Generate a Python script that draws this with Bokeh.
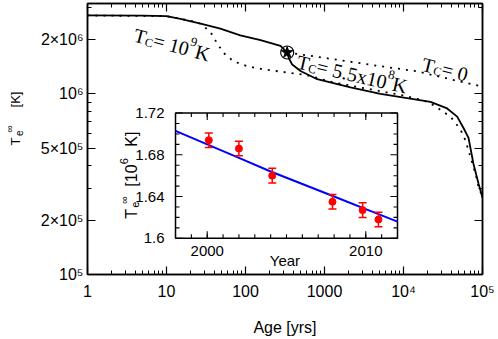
import math
from bokeh.plotting import figure
from bokeh.layouts import row
from bokeh.models import (FixedTicker, LogAxis, Label, Range1d, LinearScale,
                          ColumnDataSource)
from bokeh.embed import file_html
from bokeh.resources import INLINE

# ---------------- main panel data (age in yrs, T_e^inf in K) ----------------
age_tc55 = [1, 5, 10, 15, 27, 48, 86, 155, 277, 337, 353, 390, 497, 809, 2134,
            5115, 21970, 35700, 47800, 57500, 66500, 76900, 89000, 100000]
T_tc55 = [2.716e6, 2.71e6, 2.69e6, 2.60e6, 2.443e6, 2.296e6, 2.109e6, 1.982e6,
          1.841e6, 1.694e6, 1.578e6, 1.452e6, 1.337e6, 1.205e6, 1.086e6,
          1.0e6, 9.02e5, 8.30e5, 7.48e5, 6.47e5, 5.71e5, 4.09e5, 3.19e5, 2.66e5]

age_tc1e9 = [1, 10, 20, 27, 36, 43.8, 53.1, 70.5, 105, 169, 303, 604, 1300,
             10000, 17900, 24000, 39300, 52700, 61000, 70500, 81500, 89000, 100000]
T_tc1e9 = [2.716e6, 2.69e6, 2.54e6, 2.443e6, 2.198e6, 1.901e6, 1.679e6,
           1.514e6, 1.422e6, 1.365e6, 1.321e6, 1.268e6, 1.156e6, 9.79e5,
           9.20e5, 8.65e5, 7.48e5, 6.34e5, 5.51e5, 4.46e5, 3.61e5, 3.06e5, 2.69e5]

age_tc0 = [337, 1000, 5115, 15000, 40000, 100000]
T_tc0 = [1.694e6, 1.581e6, 1.422e6, 1.330e6, 1.202e6, 1.096e6]

casA_age = [337]
casA_T = [1.694e6]

x_ticks = [1, 10, 100, 1000, 10000, 100000]
x_tick_labels = ["1", "10", "100", "1000", "10⁴", "10⁵"]
y_ticks = [1e5, 2e5, 5e5, 1e6, 2e6]
y_tick_labels = ["10⁵", "2×10⁵", "5×10⁵", "10⁶", "2×10⁶"]
y_minor = [3e5, 4e5, 6e5, 7e5, 8e5, 9e5, 3e6]

# ---------------- inset data (year, T in 10^6 K) ----------------
obs_year = [2000.1, 2002.0, 2004.1, 2007.9, 2009.8, 2010.8]
obs_T = [1.694, 1.686, 1.660, 1.635, 1.627, 1.618]
obs_err = [0.007, 0.007, 0.007, 0.007, 0.007, 0.007]

fit_year = [1998, 2000, 2002, 2004, 2006, 2008, 2010, 2012]
fit_T = [1.703, 1.690, 1.677, 1.664, 1.652, 1.640, 1.628, 1.616]

inset_xlim = (1998, 2012)
inset_ylim = (1.6, 1.72)
inset_x_ticks = [2000, 2010]
inset_x_labels = ["2000", "2010"]
inset_x_minor = list(range(1998, 2013))
inset_y_ticks = [1.6, 1.64, 1.68, 1.72]
inset_y_labels = ["1.6", "1.64", "1.68", "1.72"]
inset_y_minor = [1.61, 1.62, 1.63, 1.65, 1.66, 1.67, 1.69, 1.70, 1.71]

SANS = "Liberation Sans"
SERIF = "Liberation Serif"

# inset box position as fractions of the main frame (left, right, bottom, top)
INSET_BOX = (0.2228, 0.7848, 0.1336, 0.5957)


def style_axis(ax, ticker, labels=None, size="16px", standoff=6, tin=8, mtin=4):
    ax.ticker = ticker
    ax.axis_line_color = "black"
    ax.axis_line_width = 1.5
    ax.major_tick_line_color = "black"
    ax.major_tick_line_width = 1.2
    ax.minor_tick_line_color = "black"
    ax.minor_tick_line_width = 1.0
    ax.major_tick_in = tin
    ax.major_tick_out = 0
    ax.minor_tick_in = mtin
    ax.minor_tick_out = 0
    if labels is None:
        ax.major_label_text_font_size = "1px"
        ax.major_label_text_color = None
        ax.major_label_standoff = 0
    else:
        ax.major_label_overrides = labels
        ax.major_label_text_font = SANS
        ax.major_label_text_font_size = size
        ax.major_label_text_color = "black"
        ax.major_label_standoff = standoff


def rich(fig, x, y, pieces, angle_deg, font, dx0=0.0, dy0=0.0, rng=None):
    a = math.radians(angle_deg)
    ca, sa = math.cos(a), math.sin(a)
    extra = {} if rng is None else dict(x_range_name=rng, y_range_name=rng)
    for text, size, s, shift in pieces:
        fig.add_layout(Label(
            x=x, y=y, x_offset=dx0 + s * ca - shift * sa,
            y_offset=dy0 + s * sa + shift * ca, text=text, angle=a,
            text_font=font, text_font_size=f"{size}px", text_color="black",
            text_align="left", text_baseline="alphabetic", **extra))


def outer_range(lo, hi, f0, f1):
    span = (hi - lo) / (f1 - f0)
    return Range1d(lo - f0 * span, hi + (1 - f1) * span)


# ---------------- main figure ----------------
W, H, LABW = 497, 338, 24
p = figure(width=W - LABW, height=H, x_axis_type="log", y_axis_type="log",
           x_range=(1, 1e5), y_range=(1e5, 10 ** 6.5),
           output_backend="svg", toolbar_location=None,
           min_border_left=87 - LABW, min_border_right=W - 482, min_border_top=3,
           min_border_bottom=H - 280)
p.xgrid.visible = False
p.ygrid.visible = False
p.outline_line_color = "black"
p.outline_line_width = 1.5
p.background_fill_color = "white"
p.border_fill_color = "white"

x_minor = [m * 10 ** d for d in range(5) for m in range(2, 10)]
style_axis(p.xaxis[0], FixedTicker(ticks=x_ticks, minor_ticks=x_minor),
           dict(zip(x_ticks, x_tick_labels)), standoff=8)
style_axis(p.yaxis[0], FixedTicker(ticks=y_ticks, minor_ticks=y_minor),
           dict(zip(y_ticks, y_tick_labels)), standoff=4)
p.xaxis[0].axis_label = "Age [yrs]"
p.xaxis[0].axis_label_text_font = SANS
p.xaxis[0].axis_label_text_font_size = "16px"
p.xaxis[0].axis_label_text_font_style = "normal"
p.xaxis[0].axis_label_text_color = "black"
p.xaxis[0].axis_label_standoff = 16

ax_top = LogAxis()
style_axis(ax_top, FixedTicker(ticks=x_ticks, minor_ticks=x_minor))
p.add_layout(ax_top, "above")
ax_right = LogAxis()
style_axis(ax_right, FixedTicker(ticks=y_ticks, minor_ticks=y_minor))
p.add_layout(ax_right, "right")

p.line(age_tc1e9, T_tc1e9, line_color="black", line_width=1.8, line_dash="2 6")
p.line(age_tc0, T_tc0, line_color="black", line_width=1.8, line_dash="2 6")
p.line(age_tc55, T_tc55, line_color="black", line_width=1.8)
p.scatter(casA_age, casA_T, marker="circle", size=13, fill_color=None,
          line_color="black", line_width=1.2)
p.scatter(casA_age, casA_T, marker="star", size=12, fill_color="black",
          line_color="black")

# curve annotations (Times-like)
rich(p, 3.9, 2.13e6, [("T", 20, 0, 0), ("C", 12, 12.2, -4), ("=", 20, 20.2, 0),
                      ("10", 20, 36.5, 0), ("9", 13, 56.5, 8), ("K", 20, 63.5, 0)],
     -15, SERIF)
rich(p, 453, 1.51e6, [("T", 20, 0, 0), ("C", 12, 12.2, -4), ("=", 20, 20.2, 0),
                      ("5.5x10", 20, 36.5, 0), ("8", 13, 91.5, 8), ("K", 20, 98, 0)],
     -13, SERIF)
rich(p, 17400, 1.47e6, [("T", 20, 0, 0), ("C", 12, 12.2, -4), ("=", 20, 20.2, 0),
                        ("0", 20, 36.5, 0)],
     -14, SERIF)

# ---------------- inset drawn on linear extra ranges ----------------
p.extra_x_ranges = {"inset": outer_range(*inset_xlim, INSET_BOX[0], INSET_BOX[1])}
p.extra_y_ranges = {"inset": outer_range(*inset_ylim, INSET_BOX[2], INSET_BOX[3])}
p.extra_x_scales = {"inset": LinearScale()}
p.extra_y_scales = {"inset": LinearScale()}
IN = dict(x_range_name="inset", y_range_name="inset")

p.quad(left=[inset_xlim[0]], right=[inset_xlim[1]], bottom=[inset_ylim[0]],
       top=[inset_ylim[1]], fill_color="white", line_color="black",
       line_width=1.5, **IN)


def ticks_x(vals, length):
    n = len(vals)
    p.ray(x=vals, y=[inset_ylim[0]] * n, length=length, angle=math.pi / 2,
          length_units="screen", line_color="black", line_width=1.1, **IN)
    p.ray(x=vals, y=[inset_ylim[1]] * n, length=length, angle=-math.pi / 2,
          length_units="screen", line_color="black", line_width=1.1, **IN)


def ticks_y(vals, length):
    n = len(vals)
    p.ray(x=[inset_xlim[0]] * n, y=vals, length=length, angle=0,
          length_units="screen", line_color="black", line_width=1.1, **IN)
    p.ray(x=[inset_xlim[1]] * n, y=vals, length=length, angle=math.pi,
          length_units="screen", line_color="black", line_width=1.1, **IN)


ticks_x(inset_x_minor, 4)
ticks_x(inset_x_ticks, 7)
ticks_y(inset_y_minor, 4)
ticks_y(inset_y_ticks, 7)

for v, t in zip(inset_x_ticks, inset_x_labels):
    p.add_layout(Label(x=v, y=inset_ylim[0], y_offset=-8, text=t,
                       text_font=SANS, text_font_size="15px", text_color="black",
                       text_align="center", text_baseline="top", **IN))
for v, t in zip(inset_y_ticks, inset_y_labels):
    p.add_layout(Label(x=inset_xlim[0], y=v, x_offset=-11, text=t,
                       text_font=SANS, text_font_size="15px", text_color="black",
                       text_align="right", text_baseline="middle", **IN))

p.line(fit_year, fit_T, line_color="#0000ff", line_width=2, **IN)
src = ColumnDataSource(dict(
    x=obs_year, y=obs_T,
    upper=[t + e for t, e in zip(obs_T, obs_err)],
    lower=[t - e for t, e in zip(obs_T, obs_err)]))
p.segment(x0="x", y0="lower", x1="x", y1="upper", source=src,
          line_color="red", line_width=1.5, **IN)
p.scatter("x", "upper", source=src, marker="dash", size=8, line_color="red",
          line_width=1.5, **IN)
p.scatter("x", "lower", source=src, marker="dash", size=8, line_color="red",
          line_width=1.5, **IN)
p.scatter("x", "y", source=src, size=7, color="red", **IN)

p.add_layout(Label(x=sum(inset_xlim) / 2 - 0.1, y=inset_ylim[0], y_offset=-22,
                   text="Year", text_font=SANS, text_font_size="15px",
                   text_align="center", text_baseline="alphabetic",
                   text_color="black", **IN))
rich(p, inset_xlim[0], sum(inset_ylim) / 2,
     [("T", 16, 0, 0), ("e", 11, 11, -3), ("∞", 11, 15, 8),
      ("[10", 16, 32, 0), ("6", 11, 54.5, 8), ("K]", 16, 72, 0)],
     90, SANS, dx0=-44, dy0=-43, rng="inset")

# ---------------- strip for the main y-axis title ----------------
lab = figure(width=LABW, height=H, x_range=(0, LABW), y_range=(0, H),
             output_backend="svg", toolbar_location=None, min_border=0,
             x_axis_location=None, y_axis_location=None)
lab.xgrid.visible = False
lab.ygrid.visible = False
lab.outline_line_color = None
lab.background_fill_color = "white"
lab.border_fill_color = "white"
rich(lab, 15, H - 141.5, [("T", 13, 0, 0), ("e", 10, 9.5, -3), ("∞", 10, 13, 6),
                          ("[K]", 13, 38, 0)],
     90, SANS, dy0=-28.5)

layout = row(lab, p)

with open("out.html", "w") as f:
    f.write(file_html(layout, INLINE))
